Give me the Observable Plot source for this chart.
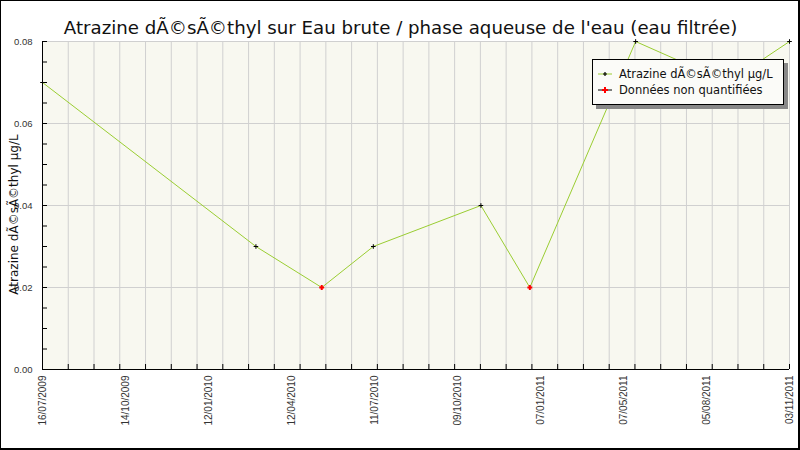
<!DOCTYPE html>
<html>
<head>
<meta charset="utf-8">
<script src="https://cdn.jsdelivr.net/npm/d3@7"></script>
<script src="https://cdn.jsdelivr.net/npm/@observablehq/plot@0.6"></script>
<style>
  html, body { margin: 0; padding: 0; background: white; }
  #wrap { position: relative; width: 800px; height: 450px; overflow: hidden; }
  #border { position: absolute; left: 0; top: 0; width: 800px; height: 450px; box-sizing: border-box;
            border-left: 1px solid #000; border-top: 1px solid #000; border-right: 2px solid #000; border-bottom: 2px solid #000; pointer-events: none; }
  #legend { position: absolute; left: 592px; top: 59px; width: 190px; height: 44px; background: #fbfbf8;
            border: 1px solid #000; box-shadow: 4px 4px 0 #888; font-family: "DejaVu Sans", sans-serif; font-size: 11.5px; color: #111; }
  .row { position: absolute; left: 4px; height: 16px; display: flex; align-items: center; }
  .row svg { margin-right: 6px; }
</style>
</head>
<body>
<div id="wrap"></div>
<script>
// ---- data ----
const titleText = "Atrazine dÃ©sÃ©thyl sur Eau brute / phase aqueuse de l'eau (eau filtrée)";
const yLabel = "Atrazine dÃ©sÃ©thyl µg/L";
const seriesName = "Atrazine dÃ©sÃ©thyl µg/L";
const nqName = "Données non quantifiées";
const dates = ["2009-07-16","2010-03-13","2010-05-26","2010-07-23","2010-11-21","2011-01-15","2011-05-14","2011-08-26","2011-11-03"];
const values = [0.07, 0.03, 0.02, 0.03, 0.04, 0.02, 0.08, 0.07, 0.08];
const quantified = [true, true, false, true, true, false, true, true, true];
const xTickLabels = ["16/07/2009","14/10/2009","12/01/2010","12/04/2010","11/07/2010","09/10/2010","07/01/2011","07/05/2011","05/08/2011","03/11/2011"];
const yTickValues = [0, 0.02, 0.04, 0.06, 0.08];
const yMinorStep = 0.005;
const xMinorCount = 30;

// ---- build ----
const data = dates.map((d, i) => ({date: new Date(d + "T00:00:00Z"), value: values[i], q: quantified[i]}));
const start = new Date("2009-07-16T00:00:00Z"), end = new Date("2011-11-03T00:00:00Z");
const span = end - start;
const xMinor = d3.range(xMinorCount).map(i => new Date(+start + i * span / (xMinorCount - 1)));
const xLabelPos = xTickLabels.map((_, i) => new Date(+start + i * span / (xTickLabels.length - 1)));
const labelMap = new Map(xLabelPos.map((d, i) => [+d, xTickLabels[i]]));
const yMinor = d3.range(0, 0.08 + 1e-9, yMinorStep);

const chart = Plot.plot({
  width: 800, height: 450,
  marginLeft: 42, marginRight: 11, marginTop: 41, marginBottom: 81,
  style: {background: "white", fontFamily: "'Liberation Sans', Arial, sans-serif", overflow: "visible"},
  x: {type: "utc", domain: [start, end]},
  y: {domain: [0, 0.08]},
  marks: [
    Plot.frame({fill: "#f8f8f0", stroke: null}),
    Plot.gridX(xMinor, {stroke: "#d0d0d0", strokeOpacity: 1}),
    Plot.gridY(yTickValues.slice(1), {stroke: "#d0d0d0", strokeOpacity: 1}),
    Plot.axisX(xMinor, {tickSize: -5, fill: "none", stroke: "#000", label: null}),
    Plot.axisX(xLabelPos, {tickSize: 0, tickPadding: 6, tickRotate: -90, tickFormat: d => labelMap.get(+d), label: null, fontSize: 10, fill: "#333"}),
    Plot.axisY(yMinor, {tickSize: -5, fill: "none", stroke: "#000", label: null}),
    Plot.axisY(yTickValues, {tickSize: 0, tickPadding: 10, tickFormat: d3.format(".2f"), label: null, fontSize: 9.5, fill: "#333"}),
    Plot.ruleY([0], {stroke: "#000"}),
    Plot.ruleX([start], {stroke: "#000"}),
    Plot.line(data, {x: "date", y: "value", stroke: "#9acd32", strokeWidth: 1}),
    Plot.dot(data.filter(d => d.q), {x: "date", y: "value", symbol: "plus", r: 1.6, stroke: "#000", strokeWidth: 1}),
    Plot.dot(data.filter(d => !d.q), {x: "date", y: "value", symbol: "plus", r: 1.7, stroke: "#f00", strokeWidth: 2}),
    Plot.text([yLabel], {frameAnchor: "left", textAnchor: "middle", dx: -28, dy: 9, rotate: -90, fontSize: 12, fontFamily: "'DejaVu Sans', sans-serif", fill: "#111"}),
    Plot.text([titleText], {frameAnchor: "top", dx: -15.5, dy: -20, fontSize: 18.2, fontFamily: "'DejaVu Sans', sans-serif", fill: "#111"})
  ]
});
const wrap = document.getElementById("wrap");
wrap.appendChild(chart);

// legend
const legend = document.createElement("div");
legend.id = "legend";
function row(top, lineColor, markColor, bigMark, text) {
  const r = document.createElement("div");
  r.className = "row";
  r.style.top = top + "px";
  const s = d3.create("svg").attr("width", 16).attr("height", 10);
  s.append("line").attr("x1", 1).attr("x2", 15).attr("y1", 5).attr("y2", 5).attr("stroke", lineColor);
  const m = bigMark ? 3 : 2;
  s.append("path").attr("d", `M${8-m},5H${8+m}M8,${5-m}V${5+m}`).attr("stroke", markColor).attr("stroke-width", bigMark ? 2 : 1.2);
  r.appendChild(s.node());
  const t = document.createElement("span");
  t.textContent = text;
  r.appendChild(t);
  legend.appendChild(r);
}
row(6, "#9acd32", "#000", false, seriesName);
row(22, "#000", "#f00", true, nqName);
wrap.appendChild(legend);

const border = document.createElement("div");
border.id = "border";
wrap.appendChild(border);
</script>
</body>
</html>
